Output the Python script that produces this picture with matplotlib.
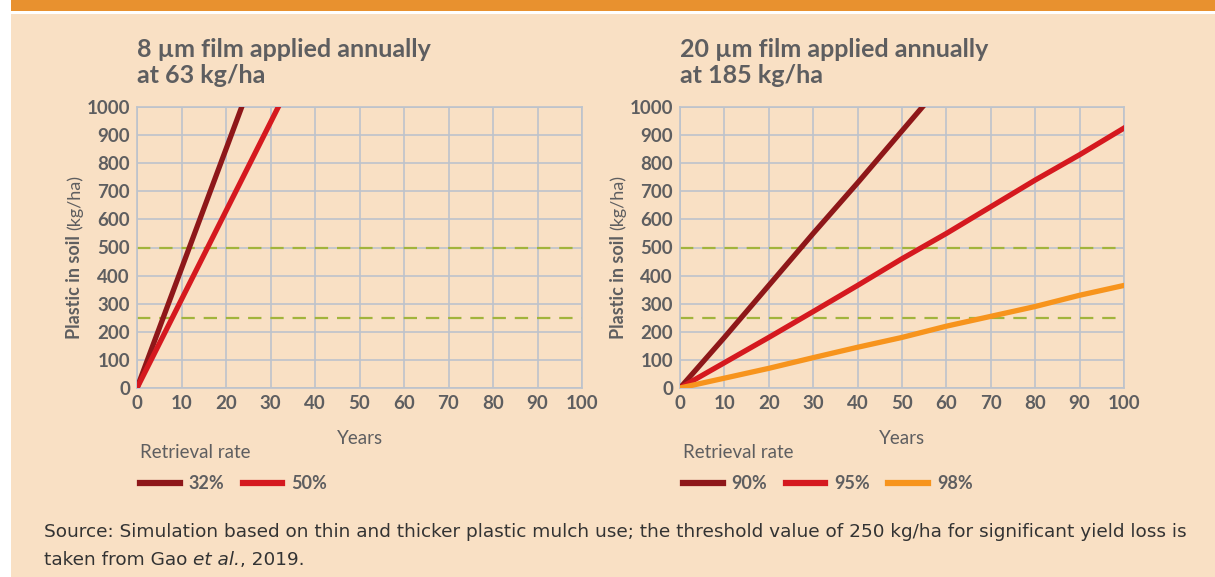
import matplotlib
matplotlib.use("Agg")
import matplotlib.pyplot as plt
from matplotlib.lines import Line2D
from matplotlib.patches import Rectangle

# Data (years vs plastic in soil, kg/ha)
years_thin = [0, 10, 20, 30, 40]
thin_32 = [0, 425, 850, 1275, 1700]
thin_50 = [0, 315, 630, 945, 1260]

years_thick = [0, 10, 20, 30, 40, 50, 60, 70, 80, 90, 100]
thick_90 = [0, 180, 365, 550, 730, 915, 1100, 1285, 1470, 1655, 1840]
thick_95 = [0, 90, 180, 272, 365, 460, 550, 645, 740, 830, 925]
thick_98 = [0, 35, 70, 108, 145, 180, 220, 255, 290, 330, 365]

thresholds = [250, 500]
x_ticks = [0, 10, 20, 30, 40, 50, 60, 70, 80, 90, 100]
y_ticks = [0, 100, 200, 300, 400, 500, 600, 700, 800, 900, 1000]

titles = ["8 µm film applied annually\nat 63 kg/ha", "20 µm film applied annually\nat 185 kg/ha"]

BG = "#F9E0C4"
ORANGE_BAND = "#E8912F"
GRID = "#BDC3CC"
GREEN = "#A2B43C"
TEXT = "#5E5E60"
DARK_RED = "#8E1719"
RED = "#D5191F"
ORANGE = "#F7941D"

plt.rcParams["font.family"] = ["Lato", "DejaVu Sans"]

W, H = 1215, 577
fig = plt.figure(figsize=(W / 100, H / 100), dpi=100, facecolor="white")

# page decoration
fig.add_artist(Rectangle((11 / W, 0), 1 - 11 / W, 1 - 14 / H, transform=fig.transFigure,
                         facecolor=BG, edgecolor="none", zorder=-10))
fig.add_artist(Rectangle((11 / W, 1 - 11 / H), 1 - 11 / W, 11 / H, transform=fig.transFigure,
                         facecolor=ORANGE_BAND, edgecolor="none", zorder=-10))


def make_axes(x0, x1):
    ax = fig.add_axes([x0 / W, 1 - 388 / H, (x1 - x0) / W, (388 - 107) / H])
    ax.set_facecolor(BG)
    ax.set_xlim(0, 100)
    ax.set_ylim(0, 1000)
    ax.set_xticks(x_ticks)
    ax.set_yticks(y_ticks)
    ax.grid(True, color=GRID, lw=1.2)
    ax.set_axisbelow(True)
    for s in ax.spines.values():
        s.set_color(GRID)
        s.set_linewidth(1.2)
    ax.tick_params(length=0, labelsize=13.5, labelcolor=TEXT, pad=5)
    for lab in ax.get_xticklabels() + ax.get_yticklabels():
        lab.set_fontweight("bold")
    for t in thresholds:
        ax.axhline(t, color=GREEN, lw=1.6, dashes=(6, 4), zorder=2)
    ax.set_xlabel("Years", fontsize=13.5, color=TEXT, labelpad=13)
    return ax


ax1 = make_axes(137, 582)
ax2 = make_axes(680, 1124)

lw = 3.8
h1 = ax1.plot(years_thin, thin_32, color=DARK_RED, lw=lw, zorder=3)[0]
h2 = ax1.plot(years_thin, thin_50, color=RED, lw=lw, zorder=3)[0]
g1 = ax2.plot(years_thick, thick_90, color=DARK_RED, lw=lw, zorder=3)[0]
g2 = ax2.plot(years_thick, thick_95, color=RED, lw=lw, zorder=3)[0]
g3 = ax2.plot(years_thick, thick_98, color=ORANGE, lw=lw, zorder=3)[0]

for title, xl in [(titles[0], 137), (titles[1], 680)]:
    fig.text(xl / W, 1 - 38 / H, title, ha="left", va="top", fontsize=18,
             fontweight="bold", color=TEXT, linespacing=1.15)

fig.canvas.draw()
r = fig.canvas.get_renderer()

# y labels: bold part + normal unit
for xl in [75, 618]:
    lb = fig.text(xl / W, 1 - 339 / H, "Plastic in soil", rotation=90, ha="center", va="bottom",
                  fontsize=13, fontweight="bold", color=TEXT)
    bb = lb.get_window_extent(r)
    fig.text(xl / W, (bb.y1 + 5) / H, "(kg/ha)", rotation=90, ha="center", va="bottom",
             fontsize=13, color=TEXT)

# legends
for handles, labels, xl in [([h1, h2], ["32%", "50%"], 137),
                            ([g1, g2, g3], ["90%", "95%", "98%"], 680)]:
    hs = [Line2D([], [], color=h.get_color(), lw=4.5) for h in handles]
    leg = fig.legend(hs, labels, loc="upper left", bbox_to_anchor=((xl + 3) / W, 1 - 444 / H),
                     ncol=len(hs), frameon=False, title="Retrieval rate", alignment="left",
                     handlelength=2.2, handletextpad=0.5, columnspacing=1.0,
                     prop={"size": 13, "weight": "bold"}, title_fontsize=13.5,
                     borderpad=0, borderaxespad=0)
    leg.get_title().set_color(TEXT)
    leg._legend_box.sep = 10
    for t in leg.get_texts():
        t.set_color(TEXT)

# source note
fs = 13.3
fig.text(44 / W, 1 - 532 / H, "Source: Simulation based on thin and thicker plastic mulch use; the threshold "
         "value of 250 kg/ha for significant yield loss is", ha="left", va="center",
         fontsize=fs, color="#333333", family="DejaVu Sans")
t = fig.text(44 / W, 1 - 560 / H, "taken from Gao ", ha="left", va="center",
             fontsize=fs, color="#333333", family="DejaVu Sans")
bb = t.get_window_extent(r)
t2 = fig.text(bb.x1 / W, 1 - 560 / H, "et al.", ha="left", va="center", fontsize=fs,
              color="#333333", family="DejaVu Sans", style="italic")
bb2 = t2.get_window_extent(r)
fig.text(bb2.x1 / W, 1 - 560 / H, ", 2019.", ha="left", va="center", fontsize=fs,
         color="#333333", family="DejaVu Sans")

fig.savefig("out.png", dpi=100, facecolor="white")
